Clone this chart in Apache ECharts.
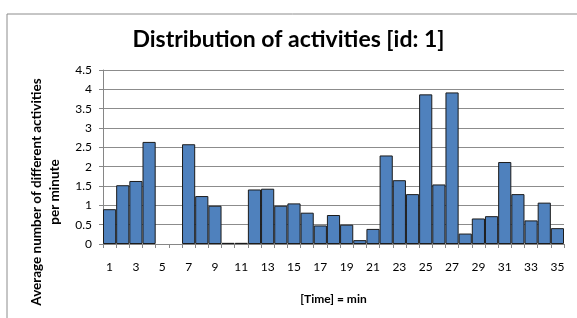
<!DOCTYPE html>
<html>
<head>
<meta charset="utf-8">
<script src="https://cdn.jsdelivr.net/npm/echarts@6/dist/echarts.min.js"></script>
<style>
  html, body { margin: 0; padding: 0; background: #fff; }
  #main { width: 577px; height: 318px; }
</style>
</head>
<body>
<div id="main"></div>
<script>
// minutes on the x axis
var minutes = ['1','2','3','4','5','6','7','8','9','10','11','12','13','14','15','16','17','18',
  '19','20','21','22','23','24','25','26','27','28','29','30','31','32','33','34','35'];
// average number of different activities per minute (null = no bar)
var avgActivities = [0.9, 1.52, 1.63, 2.64, null, null, 2.58, 1.24, 0.99, 0.03, 0.03, 1.41,
  1.43, 0.99, 1.05, 0.81, 0.48, 0.75, 0.5, 0.1, 0.39, 2.29, 1.65, 1.29, 3.87, 1.54, 3.92,
  0.27, 0.66, 0.72, 2.12, 1.29, 0.61, 1.07, 0.41];
var yAxisTitle = 'Average number of different activities\nper minute';

var font = 'Lato, "Open Sans", sans-serif';
var chart = echarts.init(document.getElementById('main'));

var option = {
  animation: false,
  textStyle: { fontFamily: font },
  title: {
    text: 'Distribution of activities [id: 1]',
    left: 'center',
    top: 23,
    textStyle: { fontFamily: font, fontSize: 23, fontWeight: 'bold', color: '#000' }
  },
  graphic: [{
    type: 'rect',
    shape: { x: 7, y: 14, width: 620, height: 400 },
    style: { fill: 'none', stroke: '#8c8c8c', lineWidth: 1 },
    silent: true
  }, {
    // y axis title sits lower than the plot centre in the original
    type: 'text',
    x: 46,
    y: 192,
    rotation: Math.PI / 2,
    silent: true,
    style: {
      text: yAxisTitle,
      font: 'bold 13.5px ' + font,
      fill: '#000',
      align: 'center',
      verticalAlign: 'middle',
      lineHeight: 18
    }
  }],
  grid: { left: 103, right: 13, top: 70, bottom: 74 },
  xAxis: {
    type: 'category',
    data: minutes,
    name: '[Time] = min',
    nameLocation: 'middle',
    nameGap: 49,
    nameTextStyle: { fontFamily: font, fontSize: 12, fontWeight: 'bold', color: '#000' },
    axisLine: { lineStyle: { color: '#868686' } },
    axisTick: { show: true, interval: 0, length: 4, lineStyle: { color: '#868686' } },
    axisLabel: { interval: 1, margin: 17, fontSize: 12, color: '#000' }
  },
  yAxis: {
    type: 'value',
    min: 0,
    max: 4.5,
    interval: 0.5,
    axisLine: { show: true, lineStyle: { color: '#868686' } },
    axisTick: { show: true, length: 4, lineStyle: { color: '#868686' } },
    axisLabel: { margin: 11, fontSize: 12, color: '#000' },
    splitLine: { lineStyle: { color: '#8c8c8c' } }
  },
  series: [{
    type: 'bar',
    data: avgActivities,
    barCategoryGap: '0%',
    itemStyle: { color: '#4f81bd', borderColor: '#1c1c1c', borderWidth: 1 }
  }]
};

chart.setOption(option);
</script>
</body>
</html>
